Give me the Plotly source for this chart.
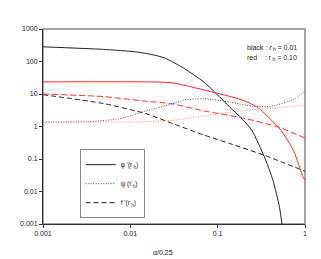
import plotly.graph_objects as go

# phi'(r_h) -- black (r_h = 0.01) and red (r_h = 0.10)
phi_black_x = [0.001, 0.0049, 0.0116, 0.0177, 0.0248, 0.041, 0.069, 0.096, 0.137, 0.19, 0.246, 0.343, 0.43, 0.51, 0.55]
phi_black_y = [283, 236, 198, 163, 128, 62, 23.6, 10.4, 4.0, 1.73, 0.77, 0.115, 0.022, 0.0033, 0.0008]
phi_red_x = [0.001, 0.015, 0.0305, 0.041, 0.1, 0.2, 0.29, 0.41, 0.53, 0.74, 0.95, 1.0]
phi_red_y = [23.6, 23.6, 22, 18.7, 10.5, 6.3, 3.8, 1.6, 0.77, 0.18, 0.028, 0.022]

# psi(r_h)
psi_black_x = [0.001, 0.0032, 0.0075, 0.015, 0.0305, 0.041, 0.069, 0.137, 0.246, 0.41, 0.74, 1.0]
psi_black_y = [1.37, 1.4, 1.73, 3.0, 5.0, 6.5, 7.2, 5.7, 4.2, 4.2, 6.8, 12]
psi_red_x = [0.001, 0.015, 0.0305, 0.075, 0.2, 0.41, 1.0]
psi_red_y = [1.37, 1.4, 1.55, 2.2, 3.1, 3.6, 4.5]

# f'(r_h)
f_black_x = [0.001, 0.0049, 0.015, 0.0305, 0.069, 0.137, 0.343, 1.0]
f_black_y = [9.5, 5.1, 2.5, 1.23, 0.55, 0.3, 0.13, 0.042]
f_red_x = [0.001, 0.005, 0.015, 0.03, 0.07, 0.2, 0.5, 1.0]
f_red_y = [10, 8.3, 6.0, 5.0, 3.0, 1.8, 0.95, 0.44]

x_ticks = [0.001, 0.01, 0.1, 1]
x_tick_text = ["0.001", "0.01", "0.1", "1"]
y_ticks = [0.001, 0.01, 0.1, 1, 10, 100, 1000]
y_tick_text = ["0.001", "0.01", "0.1", "1", "10", "100", "1000"]

FONT = "Liberation Sans, Arial, sans-serif"
BLACK = "#222222"
GREY = "#555555"
RED = "#ff2a2a"
LIGHTRED = "#ff8080"
DOT = "1px,1.5px"

fig = go.Figure()

def add(x, y, color, dash, name=None, show=False):
    fig.add_trace(go.Scatter(
        x=x, y=y, mode="lines", name=name, showlegend=show,
        line=dict(color=color, width=1, dash=dash, shape="spline", smoothing=0.6),
    ))

add(phi_black_x, phi_black_y, BLACK, "solid", "φ '(r<sub> h</sub>)", True)
add(psi_black_x, psi_black_y, GREY, DOT, "ψ (r<sub> h</sub>)", True)
add(f_black_x, f_black_y, BLACK, "5px,3px", "f '(r<sub> h</sub>)", True)
add(phi_red_x, phi_red_y, RED, "solid")
add(psi_red_x, psi_red_y, LIGHTRED, DOT)
add(f_red_x, f_red_y, RED, "6px,3px")

# page body has an 8px margin: figure is 8px smaller, left/top margins shifted
fig.update_layout(
    width=313, height=251,
    margin=dict(l=26, r=16, t=21, b=35),
    paper_bgcolor="white", plot_bgcolor="white",
    font=dict(family=FONT, size=7, color=BLACK),
    showlegend=True,
    legend=dict(
        x=0.14, y=0.03, xanchor="left", yanchor="bottom",
        bgcolor="white", bordercolor="#888888", borderwidth=1,
        font=dict(size=6.5, family=FONT, color=BLACK),
        itemwidth=30, tracegroupgap=0,
    ),
    xaxis=dict(
        type="log", range=[-3, 0], tickvals=x_ticks, ticktext=x_tick_text,
        showgrid=False, zeroline=False, showline=True, linecolor="#333333", linewidth=1,
        ticks="outside", ticklen=3, tickcolor="#333333", tickfont=dict(size=7),
    ),
    yaxis=dict(
        type="log", range=[-3, 3], tickvals=y_ticks, ticktext=y_tick_text,
        showgrid=False, zeroline=False, showline=True, linecolor="#333333", linewidth=1,
        ticks="outside", ticklen=3, tickcolor="#333333", tickfont=dict(size=7),
    ),
    shapes=[dict(type="rect", xref="paper", yref="paper", x0=0, y0=0, x1=1, y1=1,
                 line=dict(color="#888888", width=1.5), layer="below")],
    annotations=[
        dict(text="black : <i>r</i><sub> h</sub> = 0.01", xref="paper", yref="paper",
             x=0.77, y=0.903, xanchor="left", yanchor="middle", showarrow=False,
             font=dict(size=7)),
        dict(text="red&nbsp;&nbsp;&nbsp;&nbsp;: r<sub> h</sub> = 0.10", xref="paper", yref="paper",
             x=0.77, y=0.851, xanchor="left", yanchor="middle", showarrow=False,
             font=dict(size=7)),
        dict(text="α/0.25", xref="paper", yref="paper",
             x=0.458, y=-0.144, xanchor="center", yanchor="middle", showarrow=False,
             font=dict(size=7)),
    ],
)

fig.write_html("out.html")
